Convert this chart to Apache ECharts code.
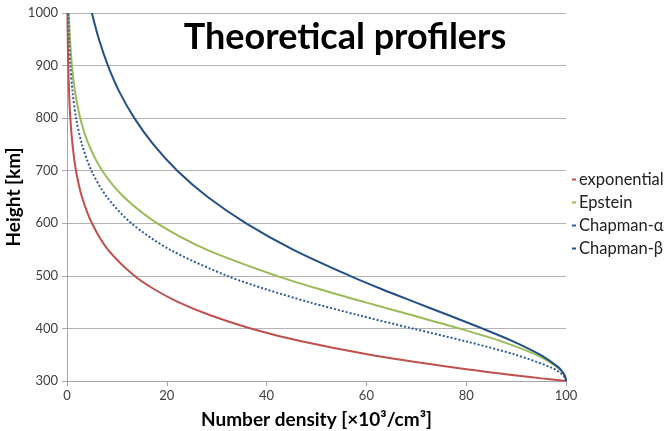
<!DOCTYPE html>
<html>
<head>
<meta charset="utf-8">
<script src="https://cdn.jsdelivr.net/npm/echarts@6/dist/echarts.min.js"></script>
<style>
html,body{margin:0;padding:0;background:#fff;}
#chart{width:670px;height:431px;}
</style>
</head>
<body>
<div id="chart"></div>
<script>
var heights = [300,305,310,315,325,350,375,400,425,450,475,500,550,600,650,700,750,800,850,900,950,1000];
var exponential = [100,95.1,90.5,86.1,77.9,60.7,47.2,36.8,28.7,22.3,17.4,13.5,8.2,5.0,3.0,1.8,1.1,0.67,0.41,0.25,0.15,0.09];
var epstein = [100,99.94,99.75,99.44,98.45,94.0,87.2,78.6,69.2,59.7,50.5,42.0,28.0,18.1,11.4,7.07,4.35,2.66,1.62,0.99,0.60,0.36];
var chapmanAlpha = [100,99.88,99.52,98.94,97.2,89.9,80.1,69.2,58.5,48.5,39.7,32.1,20.6,12.9,8.0,4.9,3.0,1.82,1.11,0.67,0.41,0.25];
var chapmanBeta = [100,99.94,99.76,99.47,98.6,94.8,89.5,83.2,76.5,69.7,63.0,56.7,45.3,35.9,28.2,22.1,17.3,13.5,10.5,8.2,6.4,4.98];
var seriesNames = ['exponential','Epstein','Chapman-α','Chapman-β'];
var titleText = 'Theoretical profilers';
var xName = 'Number density [×10³/cm³]';
var yName = 'Height [km]';

function pairs(vals){ return vals.map(function(v,i){ return [v, heights[i]]; }); }

var font = 'Lato, "Open Sans", sans-serif';
var chart = echarts.init(document.getElementById('chart'), null, {renderer:'canvas'});
chart.setOption({
  animation:false,
  backgroundColor:'#fff',
  title:{text:titleText, left:340, top:14, textAlign:'center',
    textStyle:{fontFamily:font, fontSize:36, fontWeight:'bold', color:'#000'}},
  legend:{orient:'vertical', left:567, top:166, itemWidth:4, itemHeight:2, itemGap:6,
    icon:'rect',
    textStyle:{fontFamily:font, fontSize:16.5, color:'#222', padding:[0,0,0,-2]},
    data:seriesNames},
  grid:{left:67, right:104, top:13, bottom:50, outerBoundsMode:'none', containLabel:false},
  xAxis:{type:'value', min:0, max:100, interval:20,
    name:xName, nameLocation:'middle', nameGap:29, nameMoveOverlap:false,
    nameTextStyle:{fontFamily:font, fontSize:19, fontWeight:'bold', color:'#000'},
    axisLine:{show:true, lineStyle:{color:'#a6a6a6', width:1}},
    axisTick:{show:true, length:5, lineStyle:{color:'#a6a6a6'}},
    axisLabel:{fontFamily:font, fontSize:13, color:'#404040', margin:8},
    splitLine:{show:false}},
  yAxis:{type:'value', min:300, max:1000, interval:100,
    name:yName, nameLocation:'middle', nameGap:44, nameRotate:90, nameMoveOverlap:false,
    nameTextStyle:{fontFamily:font, fontSize:19, fontWeight:'bold', color:'#000'},
    axisLine:{show:true, onZero:false, lineStyle:{color:'#a6a6a6', width:1}},
    axisTick:{show:true, length:5, lineStyle:{color:'#a6a6a6'}},
    axisLabel:{fontFamily:font, fontSize:13, color:'#404040', margin:9,
      formatter:function(v){ return String(v); }},
    splitLine:{show:true, lineStyle:{color:'#b4b4b4', width:1}}},
  series:[
    {name:seriesNames[0], type:'line', data:pairs(exponential), smooth:0.3, showSymbol:false, symbol:'none',
      lineStyle:{color:'#c0504d', width:2}, itemStyle:{color:'#c0504d'}, clip:true},
    {name:seriesNames[1], type:'line', data:pairs(epstein), smooth:0.3, showSymbol:false, symbol:'none',
      lineStyle:{color:'#9bbb59', width:2}, itemStyle:{color:'#9bbb59'}, clip:true},
    {name:seriesNames[2], type:'line', data:pairs(chapmanAlpha), smooth:0.3, showSymbol:false, symbol:'none',
      lineStyle:{color:'#2f5c9a', width:2, type:[2,2]}, itemStyle:{color:'#2f5c9a'}, clip:true},
    {name:seriesNames[3], type:'line', data:pairs(chapmanBeta), smooth:0.3, showSymbol:false, symbol:'none',
      lineStyle:{color:'#24508a', width:2}, itemStyle:{color:'#24508a'}, clip:true}
  ]
});
</script>
</body>
</html>
